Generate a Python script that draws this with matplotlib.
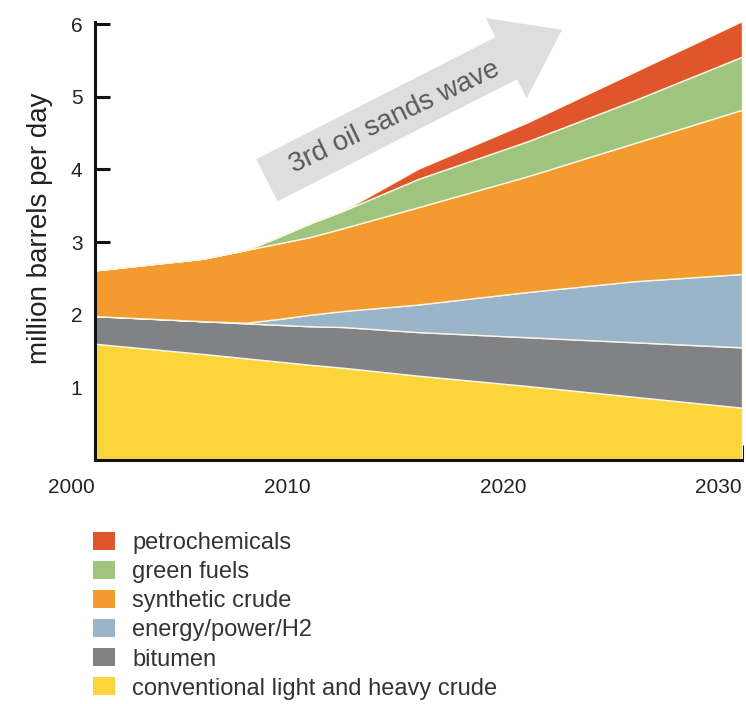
import numpy as np
import matplotlib.pyplot as plt
from matplotlib.patches import Patch

plt.rcParams['font.family'] = ['Liberation Sans', 'DejaVu Sans']

# stacked supply, million barrels per day
years = [2000, 2002.5, 2005, 2007, 2008.5, 2010, 2011.5, 2015, 2020, 2025, 2030]
conventional = [1.60, 1.53, 1.46, 1.40, 1.355, 1.31, 1.27, 1.16, 1.02, 0.87, 0.72]
bitumen = [0.38, 0.415, 0.45, 0.48, 0.505, 0.53, 0.56, 0.60, 0.67, 0.75, 0.83]
energy = [0.00, 0.00, 0.00, 0.01, 0.08, 0.16, 0.22, 0.38, 0.62, 0.84, 1.01]
synthetic = [0.63, 0.745, 0.86, 1.00, 1.04, 1.07, 1.14, 1.34, 1.59, 1.90, 2.26]
green_fuels = [0.00, 0.00, 0.00, 0.00, 0.09, 0.19, 0.24, 0.39, 0.48, 0.59, 0.73]
petrochem = [0.00, 0.00, 0.00, 0.00, 0.00, 0.00, 0.00, 0.14, 0.26, 0.39, 0.49]

labels = ['conventional light and heavy crude', 'bitumen', 'energy/power/H2',
          'synthetic crude', 'green fuels', 'petrochemicals']
colors = ['#fbd53a', '#808285', '#9ab5c9', '#f49b30', '#9fc47e', '#e0552b']

xticks = [2000, 2010, 2020, 2030]
yticks = [1, 2, 3, 4, 5, 6]

fig = plt.figure(figsize=(7.46, 7.04), dpi=100)
ax = fig.add_axes([95 / 746, 244 / 704, 647 / 746, 0.6224])

ax.stackplot(years, conventional, bitumen, energy, synthetic, green_fuels, petrochem,
             colors=colors, edgecolor='#fbf7e6', linewidth=1.0, zorder=2)

# big grey arrow behind the areas
ax.annotate('', xy=(2021.65, 5.92), xytext=(2007.97, 3.85),
            arrowprops=dict(arrowstyle='simple,head_length=45,head_width=65,tail_width=34',
                            mutation_scale=1, color='#dedede', lw=0,
                            shrinkA=0, shrinkB=0),
            zorder=1)
ax.text(2013.9, 4.72, '3rd oil sands wave', rotation=25.5, rotation_mode='anchor',
        ha='center', va='center', fontsize=20, color='#5a5a5a', zorder=3)

ax.set_xlim(2000, 2030)
ax.set_ylim(0, 6.03)
ax.set_xticks(xticks, [str(x) for x in xticks], ha='right')
ax.set_yticks(yticks)

for s in ['top', 'right']:
    ax.spines[s].set_visible(False)
for s in ['left', 'bottom']:
    ax.spines[s].set_linewidth(2.2)
    ax.spines[s].set_color('#111111')
    ax.spines[s].set_zorder(4)

ax.tick_params(direction='in', length=11, width=2.2, color='#111111',
               labelsize=15, labelcolor='#222222')
ax.tick_params(axis='x', pad=13)
ax.tick_params(axis='y', pad=9)

ax.set_ylabel('million barrels per day', fontsize=20, color='#222222')
ax.yaxis.set_label_coords(-0.065, 0.53)

handles = [Patch(facecolor=c, edgecolor='none') for c in colors]
fig.legend(handles[::-1], labels[::-1], loc='upper left',
           bbox_to_anchor=(93 / 746, 1 - 532 / 704), frameon=False,
           fontsize=17, handlelength=0.95, handleheight=0.8, labelspacing=0.29,
           handletextpad=0.7, borderpad=0, borderaxespad=0, labelcolor='#333333')

plt.savefig('out.png', dpi=100)
